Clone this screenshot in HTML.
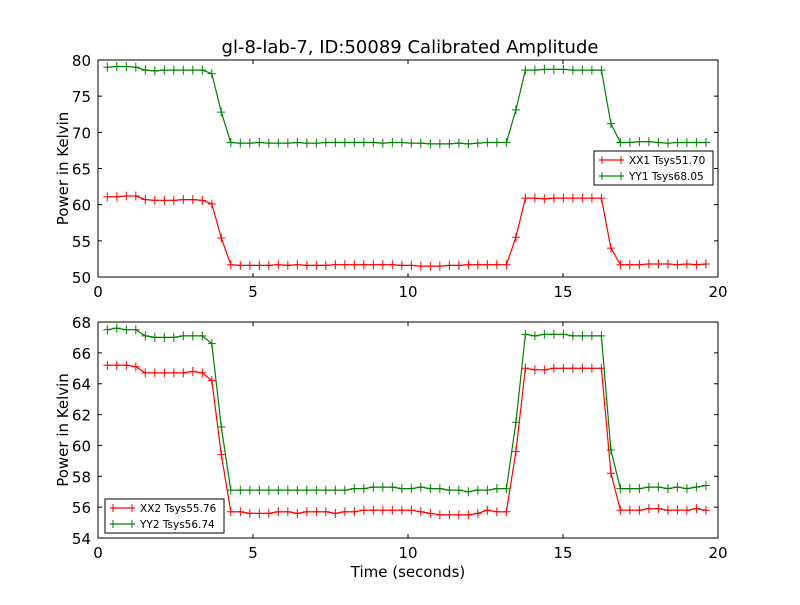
<!DOCTYPE html>
<html><head><meta charset="utf-8"><style>
body{margin:0;background:#fff}
svg text{font-family:"DejaVu Sans","Liberation Sans",sans-serif}
</style></head><body>
<svg id="fig" width="800" height="600" xmlns="http://www.w3.org/2000/svg"></svg>
<script>
const t0 = 0.3, dt = 0.3065;
const xx1 = [61.1,61.1,61.2,61.2,60.7,60.6,60.6,60.6,60.7,60.7,60.6,60.1,55.4,
51.7,51.6,51.6,51.6,51.6,51.7,51.6,51.7,51.6,51.6,51.6,51.7,51.7,51.7,51.7,51.7,51.7,51.7,51.6,51.6,51.5,51.5,51.5,51.6,51.6,51.7,51.7,51.7,51.7,51.7,
55.5,60.9,60.9,60.8,60.9,60.9,60.9,60.9,60.9,60.9,54.0,
51.7,51.7,51.7,51.8,51.8,51.8,51.7,51.8,51.7,51.8];
const yy1 = [79.0,79.1,79.1,79.0,78.6,78.5,78.6,78.6,78.6,78.6,78.6,78.1,72.8,
68.6,68.5,68.5,68.6,68.5,68.5,68.5,68.6,68.5,68.5,68.6,68.6,68.6,68.6,68.6,68.6,68.5,68.6,68.6,68.5,68.5,68.4,68.4,68.4,68.5,68.4,68.5,68.6,68.6,68.6,
73.1,78.6,78.6,78.7,78.7,78.7,78.6,78.6,78.6,78.6,71.2,
68.6,68.6,68.7,68.7,68.6,68.5,68.6,68.6,68.6,68.6];
const xx2 = [65.2,65.2,65.2,65.1,64.7,64.7,64.7,64.7,64.7,64.8,64.7,64.2,59.4,
55.7,55.7,55.6,55.6,55.6,55.7,55.7,55.6,55.7,55.7,55.7,55.6,55.7,55.7,55.8,55.8,55.8,55.8,55.8,55.8,55.7,55.6,55.5,55.5,55.5,55.5,55.6,55.8,55.7,55.7,
59.6,65.0,64.9,64.9,65.0,65.0,65.0,65.0,65.0,65.0,58.2,
55.8,55.8,55.8,55.9,55.9,55.8,55.8,55.8,55.9,55.8];
const yy2 = [67.5,67.6,67.5,67.5,67.1,67.0,67.0,67.0,67.1,67.1,67.1,66.6,61.2,
57.1,57.1,57.1,57.1,57.1,57.1,57.1,57.1,57.1,57.1,57.1,57.1,57.1,57.2,57.2,57.3,57.3,57.3,57.2,57.2,57.3,57.2,57.2,57.1,57.1,57.0,57.1,57.1,57.2,57.2,
61.5,67.2,67.1,67.2,67.2,67.2,67.1,67.1,67.1,67.1,59.7,
57.2,57.2,57.2,57.3,57.3,57.2,57.3,57.2,57.3,57.4];
const xTicks = [0,5,10,15,20];
const yTicksTop = [50,55,60,65,70,75,80];
const yTicksBot = [54,56,58,60,62,64,66,68];

const NS = "http://www.w3.org/2000/svg";
const svg = document.getElementById('fig');
function el(tag, attrs, parent){const e=document.createElementNS(NS,tag);for(const k in attrs)e.setAttribute(k,attrs[k]);(parent||svg).appendChild(e);return e;}

function panel(name, top, bottom, ymin, ymax, yTicks, series, legend, xlabel){
  const L=98,R=718;
  const g=el('g',{});
  
  
  const sx=v=>L+(v-0)/(20-0)*(R-L);
  const sy=v=>bottom-(v-ymin)/(ymax-ymin)*(bottom-top);
  el('rect',{x:L,y:top,width:R-L,height:bottom-top,fill:'#fff',stroke:'none'},g);
  series.forEach(s=>{
    const sg=el('g',{},g);
    
    
    const pts=s.data.map((v,i)=>sx(t0+i*dt).toFixed(1)+','+sy(v).toFixed(1)).join(' ');
    el('polyline',{points:pts,fill:'none',stroke:s.color,'stroke-width':1.2},sg);
    s.data.forEach((v,i)=>{const x=sx(t0+i*dt),y=sy(v);
      el('path',{d:`M${x-4},${y}H${x+4}M${x},${y-4.5}V${y+4.5}`,stroke:s.color,'stroke-width':1},sg);});
  });
  el('rect',{x:L,y:top,width:R-L,height:bottom-top,fill:'none',stroke:'#000','stroke-width':1},g);
  xTicks.forEach(v=>{const x=sx(v);
    el('path',{d:`M${x},${bottom}v-4M${x},${top}v4`,stroke:'#000'},g);
    const tx=el('text',{x:x,y:bottom+20,'font-size':15,'text-anchor':'middle'},g);tx.textContent=v;
    
    
  });
  yTicks.forEach(v=>{const y=sy(v);
    el('path',{d:`M${L},${y}h4M${R},${y}h-4`,stroke:'#000'},g);
    const tx=el('text',{x:L-7,y:y+6,'font-size':15,'text-anchor':'end'},g);tx.textContent=v;
    
    
  });
  const yl=el('text',{x:0,y:0,'font-size':15,'text-anchor':'middle',transform:`translate(68,${(top+bottom)/2}) rotate(-90)`},g);
  yl.textContent='Power in Kelvin';
  
  
  if(xlabel){const xl=el('text',{x:(L+R)/2,y:577,'font-size':15,'text-anchor':'middle'},g);xl.textContent=xlabel;
    
    }
  const lg=el('g',{},g);
  
  
  el('rect',{x:legend.x,y:legend.y,width:119,height:34,fill:'#fff',stroke:'#000','stroke-width':1},lg);
  series.forEach((s,i)=>{const y=legend.y+9+i*16;
    const en=el('g',{},lg);
    
    
    el('path',{d:`M${legend.x+5},${y}h25`,stroke:s.color,'stroke-width':1.2},en);
    el('path',{d:`M${legend.x+8},${y-4}v8M${legend.x+27},${y-4}v8`,stroke:s.color},en);
    const tx=el('text',{x:legend.x+35,y:y+4,'font-size':10.5},en);tx.textContent=s.label;});
}
const title=el('text',{x:410,y:53,'font-size':18,'text-anchor':'middle'});
title.textContent='gl-8-lab-7, ID:50089 Calibrated Amplitude';


panel('top-panel',60,277,50,80,yTicksTop,
  [{name:'series-xx1',data:xx1,color:'#ff0000',label:'XX1 Tsys51.70'},{name:'series-yy1',data:yy1,color:'#008000',label:'YY1 Tsys68.05'}],
  {x:594,y:151},null);
panel('bottom-panel',322,538,54,68,yTicksBot,
  [{name:'series-xx2',data:xx2,color:'#ff0000',label:'XX2 Tsys55.76'},{name:'series-yy2',data:yy2,color:'#008000',label:'YY2 Tsys56.74'}],
  {x:105,y:499},'Time (seconds)');
</script>
</body></html>
